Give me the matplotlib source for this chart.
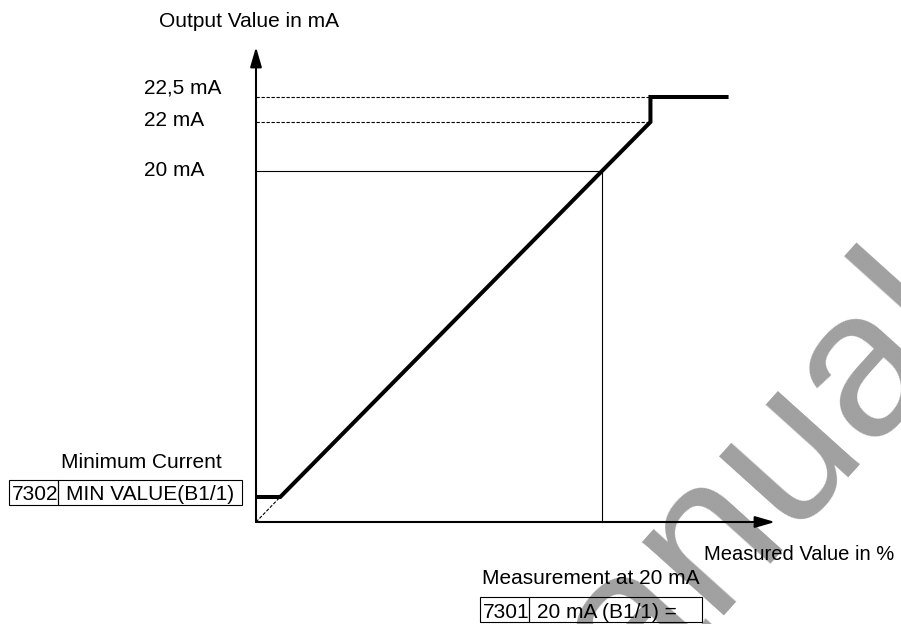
import numpy as np
import matplotlib
matplotlib.use("Agg")
import matplotlib.pyplot as plt
from matplotlib.patches import Rectangle

plt.rcParams['font.family'] = ['Liberation Sans', 'DejaVu Sans']

# --- data (schematic output characteristic) ---
min_current = 3.6                       # mA
curve_x = [0, 7, 100, 114, 114, 136]    # measured value in %
curve_y = [min_current, min_current, 20, 22, 22.5, 22.5]  # output in mA
level_values = [20, 22, 22.5]
level_labels = ["20 mA", "22 mA", "22,5 mA"]
x_max, y_max = 150, 27

# schematic (not to scale) y axis: mA -> height in px above the x axis
knots_mA = [0, 3.6, 20, 22, 22.5, 27]
knots_px = [0, 25, 351, 400, 425, 475]

W, H = 901, 624


def fpx(x, y):
    # pixel (top-down) -> figure fraction
    return x / W, 1 - y / H


fig = plt.figure(figsize=(W / 100, H / 100), dpi=100)
ax = fig.add_axes([256 / W, 102 / H, 519 / W, 475 / H])
ax.set_facecolor('none')
ax.set_yscale('function', functions=(lambda v: np.interp(v, knots_mA, knots_px),
                                     lambda v: np.interp(v, knots_px, knots_mA)))
ax.set_xlim(0, x_max)
ax.set_ylim(0, y_max)
for s in ax.spines.values():
    s.set_visible(False)
ax.set_xticks([])
ax.set_yticks([])

# axes with arrows
arrow = dict(arrowstyle='-|>,head_length=1.2,head_width=0.35', lw=1.5, color='k',
             shrinkA=0, shrinkB=0, mutation_scale=10)
ax.annotate('', xy=(x_max, 0), xytext=(0, 0), arrowprops=arrow, annotation_clip=False)
ax.annotate('', xy=(0, y_max), xytext=(0, 0), arrowprops=arrow, annotation_clip=False)

# guide lines
ax.plot([0, 100], [20, 20], color='k', lw=0.8)
ax.plot([100, 100], [0, 20], color='k', lw=0.8)
for lv in level_values[1:]:
    ax.plot([0, curve_x[3]], [lv, lv], color='k', lw=0.8, ls=(0, (3, 1.5)))
ax.plot([0, curve_x[1]], [0, min_current], color='k', lw=0.8, ls=(0, (3, 1.5)))

# characteristic
ax.plot(curve_x, curve_y, color='k', lw=2.9, solid_joinstyle='miter')

# level labels
offsets = {20: -5, 22: -4.5, 22.5: 3}
for lv, lab in zip(level_values, level_labels):
    ax.annotate(lab, xy=(0, lv), xycoords=ax.get_yaxis_transform(),
                xytext=(-112, offsets[lv]), textcoords='offset pixels',
                ha='left', va='baseline', fontsize=15)

fs = 15
fig.text(*fpx(159, 27), "Output Value in mA", fontsize=fs, va='baseline')
fig.text(*fpx(61, 468), "Minimum Current", fontsize=fs, va='baseline')
fig.text(*fpx(704, 560), "Measured Value in %", fontsize=14.5, va='baseline')
fig.text(*fpx(482, 584), "Measurement at 20 mA", fontsize=fs, va='baseline')


def param_box(x0, x1, xdiv, ytop, ybot, code, name):
    for a, b in [(x0, xdiv), (xdiv, x1)]:
        fig.patches.append(Rectangle(fpx(a, ybot), (b - a) / W, (ybot - ytop) / H,
                                     transform=fig.transFigure, fill=False,
                                     lw=0.8, ec='k'))
    yb = ybot - 4.5
    fig.text(*fpx(x0 + 3, yb), code, fontsize=fs, va='baseline')
    fig.text(*fpx(xdiv + 8, yb), name, fontsize=fs, va='baseline')


param_box(9, 242, 58, 480, 505, "7302", "MIN VALUE(B1/1)")
param_box(480, 702, 529, 597, 622, "7301", "20 mA (B1/1) =")

# watermark
fig.text(*fpx(705, 540), "manual", rotation=48, rotation_mode='anchor',
         ha='center', va='center', fontsize=150, color='#a0a0a0', zorder=-1)

fig.savefig('out.png', dpi=100)
